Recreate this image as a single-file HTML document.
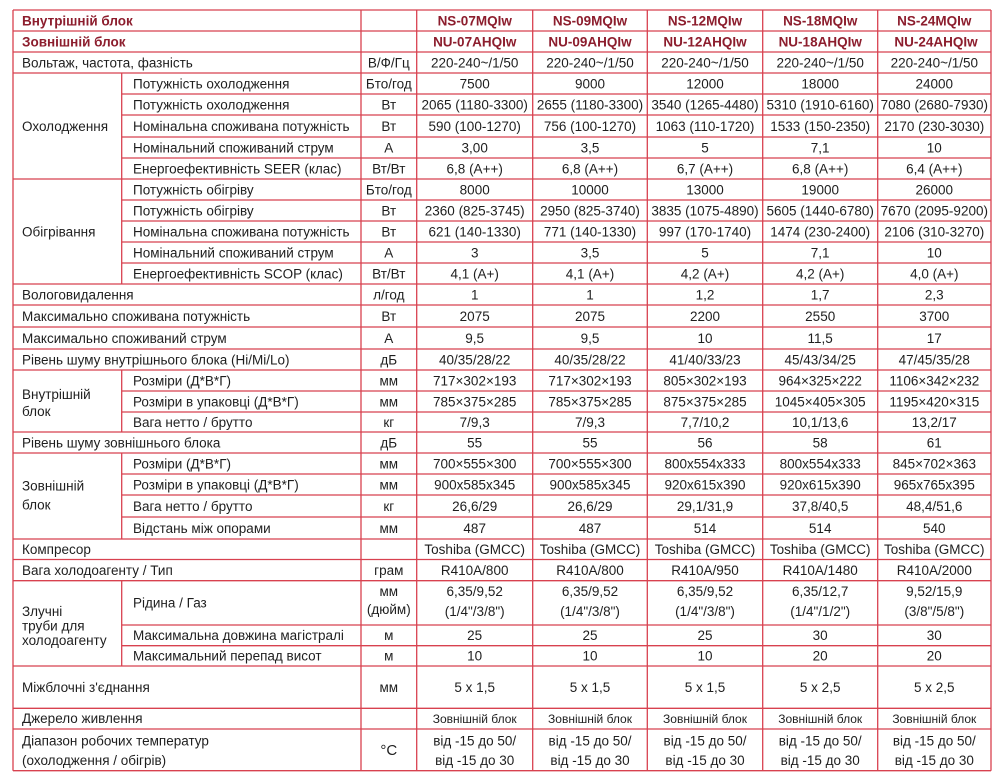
<!DOCTYPE html>
<html><head><meta charset="utf-8"><style>
html,body{margin:0;padding:0;background:#fff;}
svg{display:block;}
text{font-family:"Liberation Sans",sans-serif;font-size:13.5px;fill:#1e1e1e;}
.m{text-anchor:middle;}
.h{fill:#8c1d2d;font-weight:bold;}
.s{font-size:12px;}
line{stroke:#d8414f;stroke-width:1.3;}
</style></head><body>
<svg width="1000" height="782" viewBox="0 0 1000 782" xmlns="http://www.w3.org/2000/svg">
<rect width="1000" height="782" fill="#fff"/>
<!-- vertical lines -->
<line x1="13" y1="10" x2="13" y2="770.7"/>
<line x1="991" y1="10" x2="991" y2="770.7"/>
<line x1="361" y1="10" x2="361" y2="770.7"/>
<line x1="416.7" y1="10" x2="416.7" y2="770.7"/>
<line x1="532.7" y1="10" x2="532.7" y2="770.7"/>
<line x1="647.3" y1="10" x2="647.3" y2="770.7"/>
<line x1="762.7" y1="10" x2="762.7" y2="770.7"/>
<line x1="877.7" y1="10" x2="877.7" y2="770.7"/>
<line x1="121.7" y1="73" x2="121.7" y2="284"/>
<line x1="121.7" y1="370" x2="121.7" y2="432"/>
<line x1="121.7" y1="453" x2="121.7" y2="539"/>
<line x1="121.7" y1="580.7" x2="121.7" y2="666"/>
<!-- full horizontal -->
<line x1="13" y1="10" x2="991" y2="10"/>
<line x1="13" y1="31" x2="991" y2="31"/>
<line x1="13" y1="52" x2="991" y2="52"/>
<line x1="13" y1="73" x2="991" y2="73"/>
<line x1="13" y1="179" x2="991" y2="179"/>
<line x1="13" y1="284" x2="991" y2="284"/>
<line x1="13" y1="305" x2="991" y2="305"/>
<line x1="13" y1="327" x2="991" y2="327"/>
<line x1="13" y1="349" x2="991" y2="349"/>
<line x1="13" y1="370" x2="991" y2="370"/>
<line x1="13" y1="432" x2="991" y2="432"/>
<line x1="13" y1="453" x2="991" y2="453"/>
<line x1="13" y1="539" x2="991" y2="539"/>
<line x1="13" y1="559.5" x2="991" y2="559.5"/>
<line x1="13" y1="580.7" x2="991" y2="580.7"/>
<line x1="13" y1="666" x2="991" y2="666"/>
<line x1="13" y1="708.3" x2="991" y2="708.3"/>
<line x1="13" y1="729" x2="991" y2="729"/>
<line x1="13" y1="770.7" x2="991" y2="770.7"/>
<!-- partial horizontal -->
<line x1="121.7" y1="94" x2="991" y2="94"/>
<line x1="121.7" y1="115" x2="991" y2="115"/>
<line x1="121.7" y1="137" x2="991" y2="137"/>
<line x1="121.7" y1="158" x2="991" y2="158"/>
<line x1="121.7" y1="200" x2="991" y2="200"/>
<line x1="121.7" y1="221" x2="991" y2="221"/>
<line x1="121.7" y1="242" x2="991" y2="242"/>
<line x1="121.7" y1="263" x2="991" y2="263"/>
<line x1="121.7" y1="391" x2="991" y2="391"/>
<line x1="121.7" y1="412" x2="991" y2="412"/>
<line x1="121.7" y1="474" x2="991" y2="474"/>
<line x1="121.7" y1="495" x2="991" y2="495"/>
<line x1="121.7" y1="517" x2="991" y2="517"/>
<line x1="121.7" y1="625" x2="991" y2="625"/>
<line x1="121.7" y1="645.7" x2="991" y2="645.7"/>

<!-- header -->
<text class="h" x="22" y="25.5">Внутрішній блок</text>
<text class="h m" x="474.7" y="25.5">NS-07MQIw</text>
<text class="h m" x="590" y="25.5">NS-09MQIw</text>
<text class="h m" x="705" y="25.5">NS-12MQIw</text>
<text class="h m" x="820.2" y="25.5">NS-18MQIw</text>
<text class="h m" x="934.3" y="25.5">NS-24MQIw</text>
<text class="h" x="22" y="46.5">Зовнішній блок</text>
<text class="h m" x="474.7" y="46.5">NU-07AHQIw</text>
<text class="h m" x="590" y="46.5">NU-09AHQIw</text>
<text class="h m" x="705" y="46.5">NU-12AHQIw</text>
<text class="h m" x="820.2" y="46.5">NU-18AHQIw</text>
<text class="h m" x="936" y="46.5">NU-24AHQIw</text>

<!-- voltage -->
<text x="22" y="67.5">Вольтаж, частота, фазність</text>
<text class="m" x="388.8" y="67.5">В/Ф/Гц</text>
<text class="m" x="474.7" y="67.5">220-240~/1/50</text>
<text class="m" x="590" y="67.5">220-240~/1/50</text>
<text class="m" x="705" y="67.5">220-240~/1/50</text>
<text class="m" x="820.2" y="67.5">220-240~/1/50</text>
<text class="m" x="934.3" y="67.5">220-240~/1/50</text>

<!-- cooling -->
<text x="22" y="131">Охолодження</text>
<text x="133" y="88.5">Потужність охолодження</text>
<text class="m" x="388.8" y="88.5">Бто/год</text>
<text class="m" x="474.7" y="88.5">7500</text>
<text class="m" x="590" y="88.5">9000</text>
<text class="m" x="705" y="88.5">12000</text>
<text class="m" x="820.2" y="88.5">18000</text>
<text class="m" x="934.3" y="88.5">24000</text>

<text x="133" y="109.5">Потужність охолодження</text>
<text class="m" x="388.8" y="109.5">Вт</text>
<text class="m" x="474.7" y="109.5">2065 (1180-3300)</text>
<text class="m" x="590" y="109.5">2655 (1180-3300)</text>
<text class="m" x="705" y="109.5">3540 (1265-4480)</text>
<text class="m" x="820.2" y="109.5">5310 (1910-6160)</text>
<text class="m" x="934.3" y="109.5">7080 (2680-7930)</text>

<text x="133" y="131">Номінальна споживана потужність</text>
<text class="m" x="388.8" y="131">Вт</text>
<text class="m" x="474.7" y="131">590 (100-1270)</text>
<text class="m" x="590" y="131">756 (100-1270)</text>
<text class="m" x="705" y="131">1063 (110-1720)</text>
<text class="m" x="820.2" y="131">1533 (150-2350)</text>
<text class="m" x="934.3" y="131">2170 (230-3030)</text>

<text x="133" y="152.5">Номінальний споживаний струм</text>
<text class="m" x="388.8" y="152.5">А</text>
<text class="m" x="474.7" y="152.5">3,00</text>
<text class="m" x="590" y="152.5">3,5</text>
<text class="m" x="705" y="152.5">5</text>
<text class="m" x="820.2" y="152.5">7,1</text>
<text class="m" x="934.3" y="152.5">10</text>

<text x="133" y="173.5">Енергоефективність SEER (клас)</text>
<text class="m" x="388.8" y="173.5">Вт/Вт</text>
<text class="m" x="474.7" y="173.5">6,8 (A++)</text>
<text class="m" x="590" y="173.5">6,8 (A++)</text>
<text class="m" x="705" y="173.5">6,7 (A++)</text>
<text class="m" x="820.2" y="173.5">6,8 (A++)</text>
<text class="m" x="934.3" y="173.5">6,4 (A++)</text>

<!-- heating -->
<text x="22" y="236.5">Обігрівання</text>
<text x="133" y="194.5">Потужність обігріву</text>
<text class="m" x="388.8" y="194.5">Бто/год</text>
<text class="m" x="474.7" y="194.5">8000</text>
<text class="m" x="590" y="194.5">10000</text>
<text class="m" x="705" y="194.5">13000</text>
<text class="m" x="820.2" y="194.5">19000</text>
<text class="m" x="934.3" y="194.5">26000</text>

<text x="133" y="215.5">Потужність обігріву</text>
<text class="m" x="388.8" y="215.5">Вт</text>
<text class="m" x="474.7" y="215.5">2360 (825-3745)</text>
<text class="m" x="590" y="215.5">2950 (825-3740)</text>
<text class="m" x="705" y="215.5">3835 (1075-4890)</text>
<text class="m" x="820.2" y="215.5">5605 (1440-6780)</text>
<text class="m" x="934.3" y="215.5">7670 (2095-9200)</text>

<text x="133" y="236.5">Номінальна споживана потужність</text>
<text class="m" x="388.8" y="236.5">Вт</text>
<text class="m" x="474.7" y="236.5">621 (140-1330)</text>
<text class="m" x="590" y="236.5">771 (140-1330)</text>
<text class="m" x="705" y="236.5">997 (170-1740)</text>
<text class="m" x="820.2" y="236.5">1474 (230-2400)</text>
<text class="m" x="934.3" y="236.5">2106 (310-3270)</text>

<text x="133" y="257.5">Номінальний споживаний струм</text>
<text class="m" x="388.8" y="257.5">А</text>
<text class="m" x="474.7" y="257.5">3</text>
<text class="m" x="590" y="257.5">3,5</text>
<text class="m" x="705" y="257.5">5</text>
<text class="m" x="820.2" y="257.5">7,1</text>
<text class="m" x="934.3" y="257.5">10</text>

<text x="133" y="278.5">Енергоефективність SCOP (клас)</text>
<text class="m" x="388.8" y="278.5">Вт/Вт</text>
<text class="m" x="474.7" y="278.5">4,1 (A+)</text>
<text class="m" x="590" y="278.5">4,1 (A+)</text>
<text class="m" x="705" y="278.5">4,2 (A+)</text>
<text class="m" x="820.2" y="278.5">4,2 (A+)</text>
<text class="m" x="934.3" y="278.5">4,0 (A+)</text>

<!-- simple rows -->
<text x="22" y="299.5">Вологовидалення</text>
<text class="m" x="388.8" y="299.5">л/год</text>
<text class="m" x="474.7" y="299.5">1</text>
<text class="m" x="590" y="299.5">1</text>
<text class="m" x="705" y="299.5">1,2</text>
<text class="m" x="820.2" y="299.5">1,7</text>
<text class="m" x="934.3" y="299.5">2,3</text>

<text x="22" y="321">Максимально споживана потужність</text>
<text class="m" x="388.8" y="321">Вт</text>
<text class="m" x="474.7" y="321">2075</text>
<text class="m" x="590" y="321">2075</text>
<text class="m" x="705" y="321">2200</text>
<text class="m" x="820.2" y="321">2550</text>
<text class="m" x="934.3" y="321">3700</text>

<text x="22" y="343">Максимально споживаний струм</text>
<text class="m" x="388.8" y="343">А</text>
<text class="m" x="474.7" y="343">9,5</text>
<text class="m" x="590" y="343">9,5</text>
<text class="m" x="705" y="343">10</text>
<text class="m" x="820.2" y="343">11,5</text>
<text class="m" x="934.3" y="343">17</text>

<text x="22" y="364.5">Рівень шуму внутрішнього блока (Hi/Mi/Lo)</text>
<text class="m" x="388.8" y="364.5">дБ</text>
<text class="m" x="474.7" y="364.5">40/35/28/22</text>
<text class="m" x="590" y="364.5">40/35/28/22</text>
<text class="m" x="705" y="364.5">41/40/33/23</text>
<text class="m" x="820.2" y="364.5">45/43/34/25</text>
<text class="m" x="934.3" y="364.5">47/45/35/28</text>

<!-- indoor unit -->
<text x="22" y="399">Внутрішній</text>
<text x="22" y="416">блок</text>
<text x="133" y="385.5">Розміри (Д*В*Г)</text>
<text class="m" x="388.8" y="385.5">мм</text>
<text class="m" x="474.7" y="385.5">717×302×193</text>
<text class="m" x="590" y="385.5">717×302×193</text>
<text class="m" x="705" y="385.5">805×302×193</text>
<text class="m" x="820.2" y="385.5">964×325×222</text>
<text class="m" x="934.3" y="385.5">1106×342×232</text>

<text x="133" y="406.5">Розміри в упаковці (Д*В*Г)</text>
<text class="m" x="388.8" y="406.5">мм</text>
<text class="m" x="474.7" y="406.5">785×375×285</text>
<text class="m" x="590" y="406.5">785×375×285</text>
<text class="m" x="705" y="406.5">875×375×285</text>
<text class="m" x="820.2" y="406.5">1045×405×305</text>
<text class="m" x="934.3" y="406.5">1195×420×315</text>

<text x="133" y="427">Вага нетто / брутто</text>
<text class="m" x="388.8" y="427">кг</text>
<text class="m" x="474.7" y="427">7/9,3</text>
<text class="m" x="590" y="427">7/9,3</text>
<text class="m" x="705" y="427">7,7/10,2</text>
<text class="m" x="820.2" y="427">10,1/13,6</text>
<text class="m" x="934.3" y="427">13,2/17</text>

<text x="22" y="447.5">Рівень шуму зовнішнього блока</text>
<text class="m" x="388.8" y="447.5">дБ</text>
<text class="m" x="474.7" y="447.5">55</text>
<text class="m" x="590" y="447.5">55</text>
<text class="m" x="705" y="447.5">56</text>
<text class="m" x="820.2" y="447.5">58</text>
<text class="m" x="934.3" y="447.5">61</text>

<!-- outdoor unit -->
<text x="22" y="490.5">Зовнішній</text>
<text x="22" y="509.5">блок</text>
<text x="133" y="468.5">Розміри (Д*В*Г)</text>
<text class="m" x="388.8" y="468.5">мм</text>
<text class="m" x="474.7" y="468.5">700×555×300</text>
<text class="m" x="590" y="468.5">700×555×300</text>
<text class="m" x="705" y="468.5">800x554x333</text>
<text class="m" x="820.2" y="468.5">800x554x333</text>
<text class="m" x="934.3" y="468.5">845×702×363</text>

<text x="133" y="489.5">Розміри в упаковці (Д*В*Г)</text>
<text class="m" x="388.8" y="489.5">мм</text>
<text class="m" x="474.7" y="489.5">900x585x345</text>
<text class="m" x="590" y="489.5">900x585x345</text>
<text class="m" x="705" y="489.5">920x615x390</text>
<text class="m" x="820.2" y="489.5">920x615x390</text>
<text class="m" x="934.3" y="489.5">965x765x395</text>

<text x="133" y="511">Вага нетто / брутто</text>
<text class="m" x="388.8" y="511">кг</text>
<text class="m" x="474.7" y="511">26,6/29</text>
<text class="m" x="590" y="511">26,6/29</text>
<text class="m" x="705" y="511">29,1/31,9</text>
<text class="m" x="820.2" y="511">37,8/40,5</text>
<text class="m" x="934.3" y="511">48,4/51,6</text>

<text x="133" y="533">Відстань між опорами</text>
<text class="m" x="388.8" y="533">мм</text>
<text class="m" x="474.7" y="533">487</text>
<text class="m" x="590" y="533">487</text>
<text class="m" x="705" y="533">514</text>
<text class="m" x="820.2" y="533">514</text>
<text class="m" x="934.3" y="533">540</text>

<text x="22" y="554">Компресор</text>
<text class="m" x="474.7" y="554">Toshiba (GMCC)</text>
<text class="m" x="590" y="554">Toshiba (GMCC)</text>
<text class="m" x="705" y="554">Toshiba (GMCC)</text>
<text class="m" x="820.2" y="554">Toshiba (GMCC)</text>
<text class="m" x="934.3" y="554">Toshiba (GMCC)</text>

<text x="22" y="575">Вага холодоагенту / Тип</text>
<text class="m" x="388.8" y="575">грам</text>
<text class="m" x="474.7" y="575">R410A/800</text>
<text class="m" x="590" y="575">R410A/800</text>
<text class="m" x="705" y="575">R410A/950</text>
<text class="m" x="820.2" y="575">R410A/1480</text>
<text class="m" x="934.3" y="575">R410A/2000</text>

<!-- pipes -->
<text x="22" y="616">Злучні</text>
<text x="22" y="630.5">труби для</text>
<text x="22" y="645">холодоагенту</text>
<text x="133" y="607.5">Рідина / Газ</text>
<text class="m" x="388.8" y="596">мм</text>
<text class="m" x="388.8" y="614">(дюйм)</text>
<text class="m" x="474.7" y="596">6,35/9,52</text>
<text class="m" x="474.7" y="616">(1/4"/3/8")</text>
<text class="m" x="590" y="596">6,35/9,52</text>
<text class="m" x="590" y="616">(1/4"/3/8")</text>
<text class="m" x="705" y="596">6,35/9,52</text>
<text class="m" x="705" y="616">(1/4"/3/8")</text>
<text class="m" x="820.2" y="596">6,35/12,7</text>
<text class="m" x="820.2" y="616">(1/4"/1/2")</text>
<text class="m" x="934.3" y="596">9,52/15,9</text>
<text class="m" x="934.3" y="616">(3/8"/5/8")</text>

<text x="133" y="640">Максимальна довжина магістралі</text>
<text class="m" x="388.8" y="640">м</text>
<text class="m" x="474.7" y="640">25</text>
<text class="m" x="590" y="640">25</text>
<text class="m" x="705" y="640">25</text>
<text class="m" x="820.2" y="640">30</text>
<text class="m" x="934.3" y="640">30</text>

<text x="133" y="660.5">Максимальний перепад висот</text>
<text class="m" x="388.8" y="660.5">м</text>
<text class="m" x="474.7" y="660.5">10</text>
<text class="m" x="590" y="660.5">10</text>
<text class="m" x="705" y="660.5">10</text>
<text class="m" x="820.2" y="660.5">20</text>
<text class="m" x="934.3" y="660.5">20</text>

<text x="22" y="692">Міжблочні з'єднання</text>
<text class="m" x="388.8" y="692">мм</text>
<text class="m" x="474.7" y="692">5 x 1,5</text>
<text class="m" x="590" y="692">5 x 1,5</text>
<text class="m" x="705" y="692">5 x 1,5</text>
<text class="m" x="820.2" y="692">5 x 2,5</text>
<text class="m" x="934.3" y="692">5 x 2,5</text>

<text x="22" y="723">Джерело живлення</text>
<text class="m s" x="474.7" y="723">Зовнішній блок</text>
<text class="m s" x="590" y="723">Зовнішній блок</text>
<text class="m s" x="705" y="723">Зовнішній блок</text>
<text class="m s" x="820.2" y="723">Зовнішній блок</text>
<text class="m s" x="934.3" y="723">Зовнішній блок</text>

<text x="22" y="745.5">Діапазон робочих температур</text>
<text x="22" y="765">(охолодження / обігрів)</text>
<text class="m" x="388.8" y="755" style="font-size:15px">°C</text>
<text class="m" x="474.7" y="745.5">від -15 до 50/</text>
<text class="m" x="474.7" y="765">від -15 до 30</text>
<text class="m" x="590" y="745.5">від -15 до 50/</text>
<text class="m" x="590" y="765">від -15 до 30</text>
<text class="m" x="705" y="745.5">від -15 до 50/</text>
<text class="m" x="705" y="765">від -15 до 30</text>
<text class="m" x="820.2" y="745.5">від -15 до 50/</text>
<text class="m" x="820.2" y="765">від -15 до 30</text>
<text class="m" x="934.3" y="745.5">від -15 до 50/</text>
<text class="m" x="934.3" y="765">від -15 до 30</text>
</svg>
</body></html>
